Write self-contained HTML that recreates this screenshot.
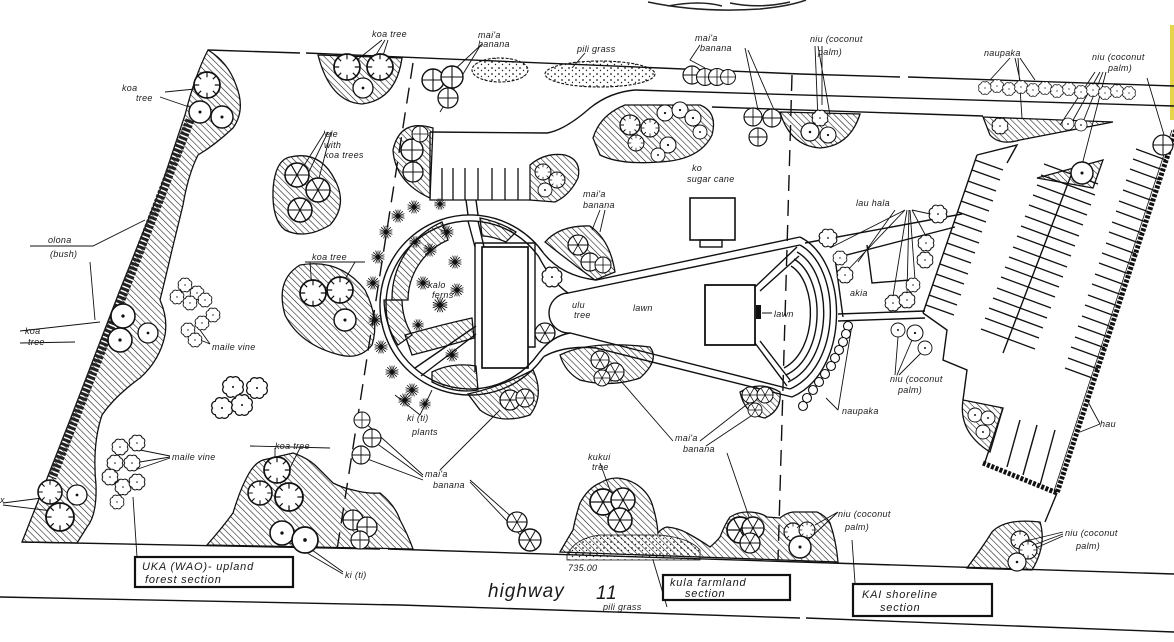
<!DOCTYPE html>
<html><head><meta charset="utf-8">
<style>
html,body{margin:0;padding:0;background:#fff;}
svg{display:block;}
text{font-family:"Liberation Sans",sans-serif;font-style:italic;fill:#1a1a1a;font-size:9px;letter-spacing:0.3px;}
.big{font-size:19px;letter-spacing:1px;}
.bx{font-size:11px;letter-spacing:0.8px;}
</style></head><body>
<svg width="1174" height="642" viewBox="0 0 1174 642" xmlns="http://www.w3.org/2000/svg">
<defs>
<pattern id="h" width="4.5" height="4.5" patternUnits="userSpaceOnUse" patternTransform="rotate(-45)">
<line x1="0" y1="0" x2="0" y2="4.5" stroke="#1a1a1a" stroke-width="1.15"/>
</pattern>
<pattern id="st" width="7" height="6" patternUnits="userSpaceOnUse">
<circle cx="2" cy="2" r="0.9" fill="#222"/><circle cx="5.5" cy="4.5" r="0.7" fill="#222"/>
</pattern>
<g id="td"><circle r="10" fill="#fff" stroke="#111" stroke-width="1.3"/><circle r="1.4" fill="#111"/></g>
<g id="tx"><circle r="10" fill="#fff" stroke="#111" stroke-width="1.3"/><path d="M-10,0H10M0,-10V10" stroke="#111" stroke-width="1"/></g>
<g id="tk"><circle r="10" fill="#fff" stroke="#111" stroke-width="1.3"/><path d="M-10,0H10M-5,-8.7L5,8.7M5,-8.7L-5,8.7" stroke="#111" stroke-width="0.9"/></g>
<g id="tb"><path d="M9,0A4,4 0 0 1 6.4,6.4A4,4 0 0 1 0,9A4,4 0 0 1 -6.4,6.4A4,4 0 0 1 -9,0A4,4 0 0 1 -6.4,-6.4A4,4 0 0 1 0,-9A4,4 0 0 1 6.4,-6.4A4,4 0 0 1 9,0Z" fill="#fff" stroke="#111" stroke-width="1.2"/><circle r="1" fill="#111"/></g>
<g id="tp"><circle r="10" fill="#fff" stroke="#111" stroke-width="1.3"/><path d="M0,-10V-6M7,-7L4.5,-4.5M10,0H6M7,7L4.5,4.5M0,10V6M-7,7L-4.5,4.5M-10,0H-6M-7,-7L-4.5,-4.5" stroke="#111" stroke-width="0.9"/></g>
<g id="ts"><path d="M-8,0H8M0,-8V8M-6,-6L6,6M6,-6L-6,6M-3,-8L3,8M3,-8L-3,8M-8,-3L8,3M-8,3L8,-3" stroke="#111" stroke-width="1"/></g>
</defs>

<rect x="1170" y="25" width="4" height="95" fill="#e6d44a"/>

<path d="M648,2 Q700,13 760,9 Q790,6 806,0 M668,6 Q700,0 722,6 M730,3 Q760,9 790,2" fill="none" stroke="#222" stroke-width="1.5"/>

<!-- ===== HATCHED AREAS ===== -->
<g fill="url(#h)" stroke="#111" stroke-width="1.3">
<path d="M208,50 Q228,62 236,85 Q246,110 233,128 Q215,145 198,155 Q188,175 183,205 L172,250 Q165,280 160,300 Q168,318 165,335 Q160,360 140,378 Q115,396 102,415 Q92,445 96,485 Q97,515 87,527 L77,543 L22,542 L70,420 L120,290 L160,190 L185,115 Q195,75 208,50 Z"/>
<path d="M318,55 Q330,102 362,104 Q396,100 402,58 Z"/>
<path d="M290,157 Q320,150 335,180 Q348,205 330,225 Q305,240 285,230 Q272,220 273,190 Q275,160 290,157 Z"/>
<path d="M300,265 Q340,258 365,290 Q380,320 372,345 Q360,360 340,355 Q300,345 285,315 Q275,280 300,265 Z"/>
<path d="M433,128 Q400,118 393,150 Q395,182 430,198 Z"/>
<path d="M530,200 L530,165 Q545,152 565,155 Q582,160 578,178 Q570,195 555,202 Z"/>
<path d="M593,138 Q600,115 625,105 L700,105 Q718,112 712,135 Q700,160 660,162 Q620,165 600,155 Z"/>
<path d="M780,112 Q790,146 820,148 Q850,146 860,114 Z"/>
<path d="M983,117 L1113,122 L1020,140 Q1000,146 990,135 Z"/>
<path d="M1037,178 L1103,160 L1093,188 Z"/>
<path d="M963,400 Q958,432 990,452 L1003,408 Z"/>
<path d="M442,222 A84,84 0 0 0 392,300 L408,300 A66,66 0 0 1 448,240 Z"/>
<path d="M384,300 A86,86 0 0 0 398,345 L412,335 A70,70 0 0 1 402,300 Z"/>
<path d="M405,335 Q440,325 472,318 L474,338 Q440,348 412,355 Z"/>
<path d="M432,372 Q452,362 476,366 L478,390 Q455,394 432,382 Z"/>
<path d="M480,218 Q500,222 516,232 L506,242 Q492,236 482,236 Z"/>
<path d="M545,242 Q560,225 590,226 Q610,240 615,272 L595,280 Q570,262 545,242 Z"/>
<path d="M560,355 Q590,340 650,347 Q660,360 640,378 Q610,388 580,380 Q565,372 560,355 Z"/>
<path d="M468,394 Q500,387 533,370 Q545,395 530,415 Q500,425 480,410 Z"/>
<path d="M740,392 Q760,380 780,392 Q782,410 765,418 Q745,415 740,392 Z"/>
<path d="M207,545 Q222,528 233,513 Q240,490 247,477 Q254,463 263,460 L293,453 Q308,458 317,467 L333,483 Q343,488 353,490 Q368,494 380,493 Q395,505 400,520 Q408,535 413,549 Z"/>
<path d="M560,552 Q568,538 573,530 Q576,515 580,503 Q588,488 600,483 Q608,478 617,478 Q630,479 640,487 Q650,495 653,507 Q657,520 658,533 Q662,528 667,527 Q678,528 687,533 Q700,540 710,547 Q716,542 720,537 Q725,524 730,517 Q738,512 747,512 Q760,512 767,517 L780,518 Q786,513 793,512 L817,512 Q826,516 830,523 Q836,540 838,562 Z"/>
<path d="M967,568 Q982,548 992,532 Q1005,518 1040,522 Q1047,545 1032,570 Z"/>
</g>

<path d="M567,555 Q575,538 600,535 L660,535 Q690,538 700,550 L700,560 L567,560 Z" fill="url(#st)" stroke="#111" stroke-width="0.8"/>
<ellipse cx="500" cy="70" rx="28" ry="12" fill="url(#st)" stroke="#111" stroke-width="1.1" stroke-dasharray="3 1.5"/>
<ellipse cx="600" cy="74" rx="55" ry="13" fill="url(#st)" stroke="#111" stroke-width="1.1" stroke-dasharray="3 1.5"/>

<!-- ===== MAIN LINES ===== -->
<g fill="none" stroke="#111" stroke-width="1.4">
<path d="M208,50 L300,53 M306,53 L660,68 L800,74 L900,77 M908,77 L1174,86"/>
<path d="M430,132 L547,133 Q565,130 590,108 Q610,92 635,90 L1174,106"/>
<path d="M712,107 L983,116"/>
<path d="M22,542 L380,549 M388,549 L800,562 L1174,574"/>
<path d="M0,597 L400,605 L800,618 M806,618 L1174,632"/>
<path d="M1176,130 L1057,493 L983,463" stroke-width="5" stroke-dasharray="3 1.5"/>
<path d="M1172,130 L1054,491" stroke-width="0.8"/>
<path d="M1057,493 L1045,522"/>
<path d="M413,63 L337,550" stroke-dasharray="16 9"/>
<path d="M792,75 L778,560" stroke-dasharray="16 9"/>
<path d="M190,120 L117,310 L52,478" stroke="#222" stroke-width="9" stroke-dasharray="3 1.5"/>
<path d="M430,132 L430,200 L530,200 M442,168 V200 M453,168 V200 M465,168 V200 M478,168 V200 M492,168 V200 M505,168 V200 M518,168 V200" stroke-width="1.3"/>
<!-- ring (keyhole) -->
<path d="M543.7,253.4 A90,90 0 1 0 543.7,356.6"/>
<path d="M538.8,256.8 A84,84 0 1 0 538.8,353.2"/>
<path d="M543.7,253.4 Q562,276 596,280 L800,237"/>
<path d="M538.8,256.8 Q552,282 568,293 L800,245"/>
<path d="M543.7,356.6 Q565,345 596,348 L792,397"/>
<path d="M538.8,353.2 Q552,336 570,333 L790,389"/>
<path d="M568,293 A20,20 0 0 0 570,333"/>
<path d="M466,200 L468,215 M476,200 L478,215 M468,221 L475,247 M478,221 L484,247"/>
<path d="M415,368 L476,326 M421,376 L476,334"/>
<rect x="482" y="247" width="46" height="121" stroke-width="1.7"/>
<path d="M475,243 L475,372 M475,243 L535,243 L535,347 L528,347"/>
<!-- lawn right end -->
<path d="M800,237 C850,262 850,372 792,397"/>
<path d="M800,245 C842,268 842,366 790,389"/>
<path d="M797,252 C834,273 834,361 788,382"/>
<path d="M794,259 C826,278 826,356 786,375"/>
<path d="M791,266 C818,283 818,350 784,368"/>
<path d="M755,287 L797,247 M760,291 L799,256 M755,343 L787,386 M760,341 L790,380"/>
<rect x="705" y="285" width="50" height="60" stroke-width="1.8"/>
<rect x="690" y="198" width="45" height="42" stroke-width="1.6"/>
<rect x="700" y="240" width="22" height="7"/>
<path d="M805,243 L962,214 M835,258 L955,227 M835,258 L843,317 M838,314 L925,311 M838,321 L925,318"/>
<path d="M867,245 L872,283 L910,280"/>
<path d="M923,313 L947,330 L943,360 L967,370 L963,400 M1003,408 L985,462"/>
<path d="M977,155 L923,313 M977,155 L1017,145 L1007,163"/>
<path d="M1075,165 L1003,353"/>
<path d="M1020,420 L1007,467 M1037,425 L1023,475 M1055,430 L1040,485"/>
</g>

<path fill="none" stroke="#111" stroke-width="1.3" d="M975,160 l28,10 M972,170 l28,10 M968,181 l28,10 M965,191 l28,10 M961,201 l28,10 M958,212 l28,10 M954,222 l28,10 M951,233 l28,10 M947,243 l28,10 M943,253 l28,10 M940,264 l28,10 M936,274 l28,10 M933,285 l28,10 M929,295 l28,10 M926,305 l28,10
M1044,164 l54,20 M1041,175 l54,20 M1037,185 l54,20 M1033,195 l54,20 M1029,205 l54,20 M1025,216 l54,20 M1021,226 l54,20 M1017,236 l54,20 M1013,247 l54,20 M1009,257 l54,20 M1005,267 l54,20 M1001,277 l54,20 M997,288 l54,20 M993,298 l54,20 M989,308 l54,20 M985,318 l54,20 M981,329 l54,20
M1136,149 l30,11 M1133,159 l30,11 M1130,169 l30,11 M1126,180 l30,11 M1123,190 l30,11 M1119,201 l30,11 M1116,211 l30,11 M1112,222 l30,11 M1109,232 l30,11 M1106,243 l30,11 M1102,253 l30,11 M1099,263 l30,11 M1095,274 l30,11 M1092,284 l30,11 M1088,295 l30,11 M1085,305 l30,11 M1082,316 l30,11 M1078,326 l30,11 M1075,337 l30,11 M1071,347 l30,11 M1068,358 l30,11 M1065,368 l30,11"/>

<path fill="none" stroke="#111" stroke-width="0.9" d="
M382,40 L352,64 M385,40 L368,68 M388,40 L381,62
M482,44 L452,72 M480,46 L440,112
M585,53 L572,68
M700,45 L690,60 L705,68 M745,48 L758,110 M748,50 L775,112
M815,46 L818,120 M818,46 L830,115 M822,46 L822,105
M1010,58 L990,80 M1015,58 L1020,80 M1020,58 L1035,80 M1018,58 L1022,118
M1100,72 L1072,122 M1103,72 L1083,122 M1106,72 L1082,165 M1095,72 L1060,125 M1147,78 L1165,138
M165,92 L205,88 M160,97 L198,110
M325,132 L300,172 M328,132 L305,180 M331,132 L318,182
M30,246 L93,246 L145,220 M90,262 L95,320
M305,262 L365,262 M310,262 L312,290 M355,262 L340,288
M20,331 L100,322 M20,343 L75,342
M210,344 L200,330 M210,344 L188,335
M170,457 L140,462 M170,456 L140,450 M170,458 L135,470
M3,503 L50,497 M3,505 L60,512
M250,446 L330,448 M275,448 L275,480 M300,448 L290,468
M343,572 L305,545 M343,574 L285,540
M420,415 L432,390 M420,415 L395,395
M423,475 L362,420 M423,477 L372,440 M423,480 L362,457 M470,480 L515,520 M470,482 L525,540 M440,470 L500,410
M673,441 L620,380 M700,441 L750,402 M706,446 L760,410 M727,453 L750,520
M600,463 L610,490
M653,560 L667,607
M838,512 L815,525 M838,512 L808,540
M1063,532 L1030,540 M1063,534 L1028,547 M1063,536 L1020,555
M1100,424 L1087,400 M1100,424 L1080,432
M895,375 L898,337 M897,375 L912,340 M899,375 L922,352
M838,410 L826,398 M838,410 L852,325
M855,583 L852,540 M137,557 L133,497
M905,210 L830,248 M905,210 L845,273 M907,210 L893,296 M909,210 L907,293 M910,210 L915,280 M912,210 L928,240 M912,210 L935,215 M895,210 L858,262
M600,210 L592,230 M605,210 L600,232
M762,313 L772,313"/>

<g fill="#fff" stroke="#111" stroke-width="1.1">
<circle cx="848" cy="326" r="4.5"/><circle cx="846" cy="334" r="4.5"/><circle cx="843" cy="342" r="4.5"/><circle cx="839" cy="350" r="4.5"/><circle cx="835" cy="358" r="4.5"/><circle cx="831" cy="366" r="4.5"/><circle cx="825" cy="374" r="4.5"/><circle cx="819" cy="382" r="4.5"/><circle cx="813" cy="390" r="4.5"/><circle cx="807" cy="398" r="4.5"/><circle cx="803" cy="406" r="4.5"/>
</g>

<g>
<use href="#ts" transform="translate(430,250) scale(.8)"/><use href="#ts" transform="translate(447,232) scale(.8)"/><use href="#ts" transform="translate(455,262) scale(.8)"/><use href="#ts" transform="translate(423,283) scale(.8)"/><use href="#ts" transform="translate(440,305) scale(.9)"/><use href="#ts" transform="translate(457,290) scale(.8)"/><use href="#ts" transform="translate(418,325) scale(.7)"/><use href="#ts" transform="translate(452,355) scale(.8)"/><use href="#ts" transform="translate(412,390) scale(.8)"/><use href="#ts" transform="translate(415,242) scale(.7)"/>
<use href="#ts" transform="translate(386,232) scale(.8)"/><use href="#ts" transform="translate(378,257) scale(.8)"/><use href="#ts" transform="translate(373,283) scale(.8)"/><use href="#ts" transform="translate(375,320) scale(.8)"/><use href="#ts" transform="translate(381,347) scale(.8)"/><use href="#ts" transform="translate(392,372) scale(.8)"/><use href="#ts" transform="translate(405,400) scale(.8)"/><use href="#ts" transform="translate(425,404) scale(.7)"/><use href="#ts" transform="translate(398,216) scale(.8)"/><use href="#ts" transform="translate(414,207) scale(.8)"/><use href="#ts" transform="translate(440,204) scale(.7)"/>
</g>

<g>
<use href="#tx" transform="translate(433,80) scale(1.1)"/><use href="#tx" transform="translate(452,77) scale(1.1)"/><use href="#tx" transform="translate(448,98) scale(1)"/>
<use href="#tp" transform="translate(347,67) scale(1.3)"/><use href="#tp" transform="translate(380,67) scale(1.3)"/><use href="#td" transform="translate(363,88) scale(1)"/>
<use href="#tx" transform="translate(692,75) scale(.9)"/><use href="#tx" transform="translate(705,77) scale(.85)"/><use href="#tx" transform="translate(717,77) scale(.85)"/><use href="#tx" transform="translate(728,77) scale(.75)"/>
<use href="#tx" transform="translate(753,117) scale(.9)"/><use href="#tx" transform="translate(772,118) scale(.9)"/><use href="#tx" transform="translate(758,137) scale(.9)"/>
<use href="#td" transform="translate(810,132) scale(.9)"/><use href="#td" transform="translate(828,135) scale(.8)"/><use href="#tb" transform="translate(820,118) scale(.8)"/>
<use href="#tb" transform="translate(985,88) scale(.65)"/><use href="#tb" transform="translate(997,86) scale(.65)"/><use href="#tb" transform="translate(1009,89) scale(.65)"/><use href="#tb" transform="translate(1021,87) scale(.65)"/><use href="#tb" transform="translate(1033,90) scale(.65)"/><use href="#tb" transform="translate(1045,88) scale(.65)"/><use href="#tb" transform="translate(1057,91) scale(.65)"/><use href="#tb" transform="translate(1069,89) scale(.65)"/><use href="#tb" transform="translate(1081,92) scale(.65)"/><use href="#tb" transform="translate(1093,90) scale(.65)"/><use href="#tb" transform="translate(1105,93) scale(.65)"/><use href="#tb" transform="translate(1117,91) scale(.65)"/><use href="#tb" transform="translate(1129,93) scale(.65)"/>
<use href="#tb" transform="translate(1000,126) scale(.8)"/><use href="#td" transform="translate(1068,124) scale(.6)"/><use href="#td" transform="translate(1081,125) scale(.6)"/>
<use href="#tx" transform="translate(1163,145) scale(1)"/><use href="#td" transform="translate(1082,173) scale(1.1)"/>
<use href="#tp" transform="translate(207,85) scale(1.3)"/><use href="#td" transform="translate(200,112) scale(1.1)"/><use href="#td" transform="translate(222,117) scale(1.1)"/>
<use href="#td" transform="translate(123,316) scale(1.2)"/><use href="#td" transform="translate(120,340) scale(1.2)"/><use href="#td" transform="translate(148,333) scale(1)"/>
<use href="#tp" transform="translate(50,492) scale(1.2)"/><use href="#td" transform="translate(77,495) scale(1)"/><use href="#tp" transform="translate(60,517) scale(1.4)"/>
<use href="#tk" transform="translate(297,175) scale(1.2)"/><use href="#tk" transform="translate(318,190) scale(1.2)"/><use href="#tk" transform="translate(300,210) scale(1.2)"/>
<use href="#tp" transform="translate(313,293) scale(1.3)"/><use href="#tp" transform="translate(340,290) scale(1.3)"/><use href="#td" transform="translate(345,320) scale(1.1)"/>
<use href="#tb" transform="translate(185,285) scale(.7)"/><use href="#tb" transform="translate(197,293) scale(.7)"/><use href="#tb" transform="translate(177,297) scale(.7)"/><use href="#tb" transform="translate(190,303) scale(.7)"/><use href="#tb" transform="translate(205,300) scale(.7)"/><use href="#tb" transform="translate(213,315) scale(.7)"/><use href="#tb" transform="translate(202,323) scale(.7)"/><use href="#tb" transform="translate(188,330) scale(.7)"/><use href="#tb" transform="translate(195,340) scale(.7)"/>
<use href="#tb" transform="translate(233,387) scale(1.05)"/><use href="#tb" transform="translate(257,388) scale(1.05)"/><use href="#tb" transform="translate(222,408) scale(1.05)"/><use href="#tb" transform="translate(242,405) scale(1.05)"/>
<use href="#tb" transform="translate(120,447) scale(.8)"/><use href="#tb" transform="translate(137,443) scale(.8)"/><use href="#tb" transform="translate(115,463) scale(.8)"/><use href="#tb" transform="translate(132,463) scale(.8)"/><use href="#tb" transform="translate(110,477) scale(.8)"/><use href="#tb" transform="translate(123,487) scale(.8)"/><use href="#tb" transform="translate(137,482) scale(.8)"/><use href="#tb" transform="translate(117,502) scale(.7)"/>
<use href="#tx" transform="translate(362,420) scale(.8)"/><use href="#tx" transform="translate(372,438) scale(.9)"/><use href="#tx" transform="translate(361,455) scale(.9)"/>
<use href="#tp" transform="translate(260,493) scale(1.2)"/><use href="#tp" transform="translate(277,470) scale(1.3)"/><use href="#tp" transform="translate(289,497) scale(1.4)"/><use href="#td" transform="translate(282,533) scale(1.2)"/><use href="#td" transform="translate(305,540) scale(1.3)"/><use href="#tx" transform="translate(353,520) scale(1)"/><use href="#tx" transform="translate(367,527) scale(1)"/><use href="#tx" transform="translate(360,540) scale(.9)"/>
<use href="#tk" transform="translate(517,522) scale(1)"/><use href="#tk" transform="translate(530,540) scale(1.1)"/>
<use href="#tk" transform="translate(603,502) scale(1.3)"/><use href="#tk" transform="translate(623,500) scale(1.2)"/><use href="#tk" transform="translate(620,520) scale(1.2)"/>
<use href="#tk" transform="translate(740,530) scale(1.3)"/><use href="#tk" transform="translate(753,528) scale(1.1)"/><use href="#tk" transform="translate(750,543) scale(1)"/><use href="#tp" transform="translate(793,532) scale(.9)"/><use href="#tp" transform="translate(807,530) scale(.8)"/><use href="#td" transform="translate(800,547) scale(1.1)"/>
<use href="#tp" transform="translate(1020,540) scale(.9)"/><use href="#tp" transform="translate(1028,550) scale(.9)"/><use href="#td" transform="translate(1017,562) scale(.9)"/>
<use href="#tk" transform="translate(510,400) scale(1)"/><use href="#tk" transform="translate(525,398) scale(.9)"/>
<use href="#tk" transform="translate(600,360) scale(.9)"/><use href="#tk" transform="translate(615,372) scale(.9)"/><use href="#tk" transform="translate(602,378) scale(.8)"/>
<use href="#tk" transform="translate(750,395) scale(.8)"/><use href="#tk" transform="translate(765,395) scale(.8)"/><use href="#tk" transform="translate(755,410) scale(.7)"/>
<use href="#tk" transform="translate(578,245) scale(1)"/><use href="#tx" transform="translate(590,262) scale(.9)"/><use href="#tx" transform="translate(603,265) scale(.8)"/>
<use href="#tx" transform="translate(412,150) scale(1.1)"/><use href="#tx" transform="translate(413,172) scale(1)"/><use href="#tx" transform="translate(420,134) scale(.8)"/>
<use href="#tp" transform="translate(543,172) scale(.8)"/><use href="#tp" transform="translate(557,180) scale(.8)"/><use href="#td" transform="translate(545,190) scale(.7)"/>
<use href="#tp" transform="translate(630,125) scale(1)"/><use href="#tp" transform="translate(650,128) scale(.9)"/><use href="#tp" transform="translate(636,143) scale(.8)"/><use href="#td" transform="translate(665,113) scale(.8)"/><use href="#td" transform="translate(680,110) scale(.8)"/><use href="#td" transform="translate(693,118) scale(.8)"/><use href="#td" transform="translate(668,145) scale(.8)"/><use href="#td" transform="translate(658,155) scale(.7)"/><use href="#td" transform="translate(700,132) scale(.7)"/>
<use href="#tb" transform="translate(552,277) scale(1)"/><use href="#tk" transform="translate(545,333) scale(1)"/>
<use href="#tb" transform="translate(828,238) scale(.9)"/><use href="#tb" transform="translate(840,258) scale(.7)"/><use href="#tb" transform="translate(845,275) scale(.8)"/><use href="#tb" transform="translate(938,214) scale(.9)"/><use href="#tb" transform="translate(926,243) scale(.8)"/><use href="#tb" transform="translate(925,260) scale(.8)"/><use href="#tb" transform="translate(893,303) scale(.8)"/><use href="#tb" transform="translate(907,300) scale(.8)"/><use href="#tb" transform="translate(913,285) scale(.7)"/>
<use href="#td" transform="translate(898,330) scale(.7)"/><use href="#td" transform="translate(915,333) scale(.8)"/><use href="#td" transform="translate(925,348) scale(.7)"/>
<use href="#td" transform="translate(975,415) scale(.7)"/><use href="#td" transform="translate(988,418) scale(.7)"/><use href="#td" transform="translate(983,432) scale(.7)"/>
</g>
<rect x="756" y="305" width="5" height="14" fill="#111"/>

<g>
<text x="372" y="37">koa tree</text>
<text x="478" y="38">mai'a</text><text x="478" y="47">banana</text>
<text x="577" y="52">pili grass</text>
<text x="695" y="41">mai'a</text><text x="700" y="51">banana</text>
<text x="810" y="42">niu (coconut</text><text x="818" y="55">palm)</text>
<text x="984" y="56">naupaka</text>
<text x="1092" y="60">niu (coconut</text><text x="1108" y="71">palm)</text>
<text x="122" y="91">koa</text><text x="136" y="101">tree</text>
<text x="323" y="137">'ele</text><text x="324" y="148">with</text><text x="324" y="158">koa trees</text>
<text x="48" y="243">olona</text><text x="50" y="257">(bush)</text>
<text x="312" y="260">koa tree</text>
<text x="692" y="171">ko</text><text x="687" y="182">sugar cane</text>
<text x="583" y="197">mai'a</text><text x="583" y="208">banana</text>
<text x="856" y="206">lau hala</text>
<text x="633" y="311">lawn</text>
<text x="572" y="308">ulu</text><text x="574" y="318">tree</text>
<text x="774" y="317">lawn</text>
<text x="428" y="288">kalo</text><text x="432" y="298">ferns</text>
<text x="407" y="421">ki (ti)</text><text x="412" y="435">plants</text>
<text x="425" y="477">mai'a</text><text x="433" y="488">banana</text>
<text x="675" y="441">mai'a</text><text x="683" y="452">banana</text>
<text x="588" y="460">kukui</text><text x="592" y="470">tree</text>
<text x="568" y="571">735.00</text>
<text class="big" x="488" y="597">highway</text><text class="big" x="596" y="599">11</text>
<text x="603" y="610">pili grass</text>
<text x="275" y="449">koa tree</text>
<text x="212" y="350">maile vine</text>
<text x="172" y="460">maile vine</text>
<text x="25" y="334">koa</text><text x="28" y="345">tree</text>
<text x="345" y="578">ki (ti)</text>
<text x="890" y="382">niu (coconut</text><text x="898" y="393">palm)</text>
<text x="842" y="414">naupaka</text>
<text x="1100" y="427">hau</text>
<text x="838" y="517">niu (coconut</text><text x="845" y="530">palm)</text>
<text x="1065" y="536">niu (coconut</text><text x="1076" y="549">palm)</text>
<text x="850" y="296">akia</text>
<text x="0" y="503">x</text>
</g>

<g fill="#fff" stroke="#111" stroke-width="2.2">
<rect x="135" y="557" width="158" height="30"/>
<rect x="663" y="575" width="127" height="25"/>
<rect x="853" y="584" width="139" height="32"/>
</g>
<text class="bx" x="142" y="570">UKA (WAO)- upland</text><text class="bx" x="145" y="583">forest   section</text>
<text class="bx" x="670" y="586">kula  farmland</text><text class="bx" x="685" y="597">section</text>
<text class="bx" x="862" y="598">KAI   shoreline</text><text class="bx" x="880" y="611">section</text>
</svg>
</body></html>
